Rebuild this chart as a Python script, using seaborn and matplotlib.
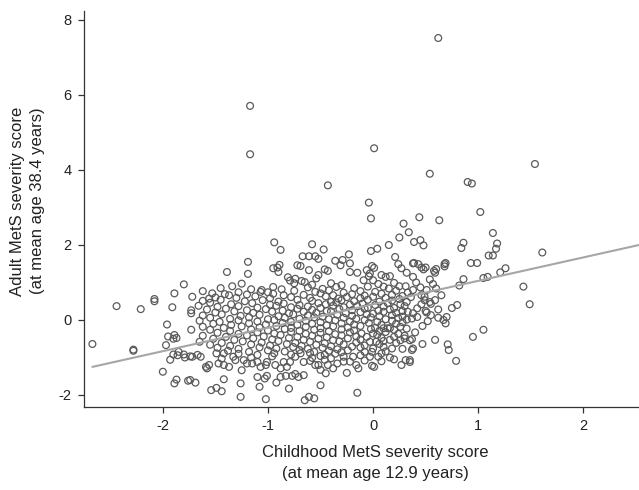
import matplotlib
matplotlib.use("Agg")
import matplotlib.pyplot as plt
import seaborn as sns
import pandas as pd

# ---------------- data ----------------
outliers = [(-1.17, 5.70), (-1.17, 4.41), (-0.43, 3.58), (0.62, 7.51), (0.01, 4.57),
            (0.54, 3.89), (1.54, 4.15), (0.90, 3.67), (0.94, 3.63)]

upper_cloud = [(-0.04, 3.12), (-0.02, 2.70), (0.29, 2.56), (0.34, 2.33), (0.25, 2.19), (0.15, 1.99),
               (-0.58, 2.01), (-0.47, 1.87), (-0.02, 1.83), (0.04, 1.89), (-0.23, 1.74), (0.21, 1.67),
               (-0.67, 1.69), (-0.61, 1.69), (-0.55, 1.69), (-0.52, 1.62), (-0.36, 1.57), (-0.29, 1.59),
               (-0.22, 1.50), (-0.01, 1.43), (0.01, 1.38), (0.24, 1.48), (0.27, 1.37), (0.38, 1.50),
               (-0.31, 1.45), (-0.46, 1.34), (-0.43, 1.30), (-0.52, 1.19), (-0.54, 1.10), (-0.22, 1.27),
               (-0.15, 1.25), (-0.06, 1.32), (-0.03, 1.23), (-0.04, 1.16), (0.08, 1.19), (0.12, 1.14),
               (0.16, 1.16), (0.32, 1.25), (-0.61, 1.32), (-0.09, 1.05), (0.00, 1.05), (0.25, 0.89),
               (0.31, 0.89), (0.10, 0.88)]

right_cloud = [(1.02, 2.87), (0.44, 2.73), (0.63, 2.65), (1.14, 2.31), (0.39, 2.07), (0.45, 2.12),
               (0.48, 1.98), (0.86, 2.05), (0.84, 1.91), (1.18, 2.03), (1.17, 1.89), (1.10, 1.71),
               (1.14, 1.71), (0.39, 1.51), (0.43, 1.48), (0.46, 1.39), (0.48, 1.34), (0.50, 1.39),
               (0.58, 1.30), (0.60, 1.35), (0.59, 1.25), (0.68, 1.48), (0.69, 1.51), (0.68, 1.42),
               (0.93, 1.51), (0.99, 1.51), (1.26, 1.37), (1.21, 1.26), (0.38, 1.14), (0.41, 0.99),
               (0.54, 1.07), (0.57, 0.95), (0.86, 1.08), (1.05, 1.11), (1.09, 1.14), (0.82, 0.91),
               (1.43, 0.88), (0.51, 0.79), (0.60, 0.83), (0.46, 0.65), (0.49, 0.61), (0.65, 0.65),
               (0.38, 0.79), (1.61, 1.79), (1.49, 0.41),
               (0.49, 0.52), (0.54, 0.47), (0.59, 0.52), (0.42, 0.30), (0.46, 0.41), (0.75, 0.31),
               (0.80, 0.39), (0.50, 0.23), (0.51, 0.19), (0.38, 0.17), (0.37, 0.03), (0.42, 0.07),
               (0.62, 0.05), (0.67, -0.01), (0.70, 0.07), (0.69, -0.10), (0.47, -0.17), (0.95, -0.46),
               (1.05, -0.27), (0.40, -0.34), (0.37, -0.52), (0.47, -0.65), (0.59, -0.54), (0.71, -0.66),
               (0.72, -0.81), (0.37, -0.81), (0.35, -1.08), (0.79, -1.10)]

left_cloud = [(-1.80, 0.94), (-1.89, 0.70), (-2.08, 0.55), (-2.44, 0.36), (-2.21, 0.28), (-2.08, 0.49),
              (-1.91, 0.33), (-1.73, 0.25), (-1.73, 0.17), (-1.96, -0.13), (-1.73, -0.27), (-1.95, -0.45),
              (-1.89, -0.41), (-1.87, -0.49), (-1.90, -0.51), (-1.97, -0.68), (-2.67, -0.65), (-2.28, -0.83),
              (-2.28, -0.80), (-1.90, -0.93), (-1.85, -0.86), (-1.86, -0.95), (-1.80, -0.93), (-1.79, -1.01),
              (-1.74, -0.98), (-1.93, -1.07), (-2.00, -1.39), (-1.87, -1.60), (-1.89, -1.70), (-1.76, -1.63),
              (-1.69, -1.68)]

upper_left_cloud = [(-0.94, 2.06), (-0.88, 1.86), (-1.19, 1.54), (-1.39, 1.27), (-1.19, 1.22),
                    (-0.95, 1.37), (-0.91, 1.39), (-0.89, 1.46), (-0.90, 1.27), (-0.72, 1.45),
                    (-0.69, 1.43), (-0.74, 1.09), (-0.75, 0.97), (-0.79, 1.04), (-0.68, 1.03),
                    (-0.81, 1.13), (-0.65, 1.00), (-1.34, 0.89), (-1.16, 0.81), (-1.06, 0.79),
                    (-1.07, 0.74), (-1.00, 0.73), (-0.95, 0.87), (-0.87, 0.81), (-0.85, 0.65),
                    (-1.53, 0.70), (-1.50, 0.59), (-1.41, 0.68), (-1.37, 0.65), (-1.56, 0.56)]

lower_cloud = [(0.18, -0.77), (0.26, -0.55), (0.30, -0.50), (0.35, -0.55), (0.38, -0.77), (0.27, -1.21),
               (0.31, -1.08), (0.35, -1.13), (0.16, -0.23), (0.14, -0.23), (0.10, -0.23), (-0.11, -0.37),
               (-0.06, -0.46), (-0.03, -0.59), (0.03, -0.59), (-0.08, -0.86), (-0.03, -0.99), (-0.01, -0.86),
               (0.05, -0.99), (-0.01, -1.23), (0.01, -1.26), (-0.16, -1.21), (-0.14, -1.30), (-0.25, -1.42),
               (-0.20, -0.72), (-0.19, -0.99), (-0.22, -1.12), (-0.50, -1.75), (-0.15, -1.95), (-0.65, -2.15),
               (-0.61, -2.06), (-0.56, -2.10), (-0.66, -1.48), (-0.50, -1.34), (-0.45, -1.43), (-0.55, -1.21),
               (-0.52, -1.21), (-0.43, -1.21), (-0.38, -1.30), (-0.34, -1.17),
               (-1.26, -2.06), (-1.02, -2.12), (-1.54, -1.88), (-1.49, -1.82), (-1.44, -1.91), (-1.74, -1.61),
               (-1.26, -1.70), (-1.42, -1.59), (-1.08, -1.79), (-1.10, -1.53), (-1.01, -1.50), (-1.03, -1.57),
               (-0.92, -1.68), (-0.88, -1.53), (-0.80, -1.84), (-0.83, -1.50), (-0.77, -1.50), (-0.74, -1.45),
               (-0.71, -1.53), (-1.59, -1.26), (-1.56, -1.21), (-1.58, -1.30), (-1.67, -0.94), (-1.64, -0.99),
               (-1.72, -0.99), (-1.47, -1.17), (-1.42, -1.21), (-1.37, -1.26), (-1.49, -0.90), (-1.44, -1.04),
               (-1.42, -0.90), (-1.33, -0.99), (-1.31, -1.08), (-1.23, -1.08), (-1.20, -1.17), (-1.15, -1.17),
               (-1.25, -1.35), (-1.10, -1.13), (-1.07, -1.26), (-1.02, -1.21), (-1.01, -1.13), (-0.93, -1.21),
               (-0.88, -1.30), (-0.85, -1.13), (-0.82, -1.26), (-0.79, -1.13), (-0.74, -0.99), (-0.69, -0.90),
               (-0.66, -1.13)]

core_upper = [(-1.25, 0.96), (-0.58, 0.93), (-0.40, 0.97), (-0.30, 0.92), (0.05, 0.95), (0.20, 0.98),
              (-1.45, 0.84), (-0.62, 0.86), (-0.48, 0.82), (-0.35, 0.87), (-0.18, 0.84), (-0.05, 0.88),
              (0.15, 0.83), (0.45, 0.86), (-1.62, 0.76), (-1.28, 0.73), (-0.75, 0.77), (-0.55, 0.74),
              (-0.42, 0.78), (-0.28, 0.72), (-0.12, 0.76), (0.02, 0.74), (0.22, 0.77), (0.33, 0.72),
              (-1.20, 0.67), (-0.95, 0.69), (-0.66, 0.66), (-0.50, 0.70), (-0.38, 0.65), (-0.20, 0.68),
              (-0.08, 0.64), (0.08, 0.69), (0.18, 0.66), (0.28, 0.63), (-1.72, 0.61), (-1.30, 0.58),
              (-1.12, 0.62), (-0.98, 0.57), (-0.78, 0.60), (-0.60, 0.58), (-0.45, 0.62), (-0.33, 0.56),
              (-0.25, 0.60), (-0.12, 0.57), (0.00, 0.61), (0.12, 0.58), (0.25, 0.55), (0.36, 0.60),
              (-1.62, 0.50), (-1.45, 0.53), (-1.22, 0.49), (-1.05, 0.52), (-0.90, 0.48), (-0.72, 0.53),
              (-0.58, 0.50), (-0.40, 0.47), (-0.30, 0.52), (-0.18, 0.49), (-0.05, 0.53), (0.06, 0.48),
              (0.18, 0.51), (0.32, 0.47)]

core_mid_upper = [(-1.55, 0.45), (-1.35, 0.41), (-1.15, 0.44), (-0.98, 0.40), (-0.85, 0.43), (-0.70, 0.39),
                  (-0.52, 0.44), (-0.45, 0.41), (-0.35, 0.46), (-0.22, 0.40), (-0.10, 0.43), (0.02, 0.39),
                  (0.14, 0.44), (0.26, 0.41), (0.55, 0.42), (-1.66, 0.37), (-1.48, 0.34), (-1.28, 0.36),
                  (-1.10, 0.32), (-0.92, 0.37), (-0.78, 0.33), (-0.62, 0.35), (-0.50, 0.31), (-0.38, 0.37),
                  (-0.28, 0.33), (-0.15, 0.36), (-0.05, 0.32), (0.10, 0.35), (0.20, 0.31), (0.30, 0.36),
                  (-1.58, 0.27), (-1.40, 0.29), (-1.20, 0.25), (-1.02, 0.28), (-0.86, 0.24), (-0.72, 0.29),
                  (-0.58, 0.26), (-0.44, 0.23), (-0.32, 0.28), (-0.20, 0.25), (-0.08, 0.29), (0.05, 0.24),
                  (0.16, 0.27), (0.28, 0.23), (0.62, 0.27), (-1.50, 0.19), (-1.32, 0.22), (-1.14, 0.18),
                  (-0.96, 0.21), (-0.80, 0.17), (-0.66, 0.21), (-0.54, 0.18), (-0.40, 0.22), (-0.26, 0.17),
                  (-0.12, 0.20), (0.00, 0.16), (0.10, 0.21), (0.22, 0.18), (0.33, 0.21), (-1.62, 0.11),
                  (-1.44, 0.14), (-1.26, 0.10), (-1.08, 0.13), (-0.90, 0.09), (-0.76, 0.14), (-0.62, 0.11),
                  (-0.48, 0.08), (-0.34, 0.13), (-0.20, 0.10), (-0.06, 0.14), (0.06, 0.09), (0.18, 0.12),
                  (0.28, 0.08), (0.55, 0.12)]

core_mid_lower = [(-1.55, 0.05), (-1.36, 0.02), (-1.18, 0.06), (-1.00, 0.01), (-0.84, 0.05), (-0.70, 0.02),
                  (-0.56, 0.06), (-0.42, 0.01), (-0.28, 0.05), (-0.16, 0.02), (-0.02, 0.06), (0.12, 0.01),
                  (0.24, 0.04), (0.32, 0.00), (-1.65, -0.03), (-1.46, -0.06), (-1.28, -0.02), (-1.10, -0.05),
                  (-0.94, -0.01), (-0.78, -0.06), (-0.64, -0.03), (-0.50, -0.07), (-0.36, -0.02), (-0.22, -0.05),
                  (-0.08, -0.01), (0.04, -0.06), (0.18, -0.03), (0.28, -0.07), (0.52, -0.04), (-1.52, -0.11),
                  (-1.35, -0.14), (-1.18, -0.10), (-1.02, -0.13), (-0.86, -0.09), (-0.72, -0.14), (-0.58, -0.11),
                  (-0.44, -0.15), (-0.30, -0.10), (-0.18, -0.13), (-0.04, -0.09), (0.08, -0.14), (0.22, -0.11),
                  (-1.62, -0.19), (-1.42, -0.22), (-1.25, -0.18), (-1.08, -0.21), (-0.92, -0.17), (-0.78, -0.22),
                  (-0.64, -0.19), (-0.50, -0.23), (-0.38, -0.18), (-0.24, -0.21), (-0.12, -0.17), (0.02, -0.22),
                  (0.26, -0.19), (0.32, -0.24), (-1.55, -0.27), (-1.36, -0.30), (-1.16, -0.26), (-1.00, -0.29),
                  (-0.84, -0.25), (-0.70, -0.30), (-0.56, -0.27), (-0.42, -0.31), (-0.30, -0.26), (-0.18, -0.29),
                  (-0.02, -0.25), (0.06, -0.30), (0.20, -0.27)]

core_lower = [(-1.48, -0.35), (-1.28, -0.38), (-1.10, -0.34), (-0.94, -0.37), (-0.78, -0.33), (-0.64, -0.38),
              (-0.50, -0.35), (-0.36, -0.39), (-0.22, -0.34), (0.00, -0.37), (0.12, -0.33), (0.24, -0.38),
              (-1.62, -0.43), (-1.40, -0.46), (-1.20, -0.42), (-1.04, -0.45), (-0.88, -0.41), (-0.72, -0.46),
              (-0.58, -0.43), (-0.44, -0.47), (-0.30, -0.42), (-0.16, -0.45), (0.04, -0.41), (0.20, -0.46),
              (0.30, -0.43), (-1.52, -0.51), (-1.32, -0.54), (-1.14, -0.50), (-0.96, -0.53), (-0.80, -0.49),
              (-0.66, -0.54), (-0.52, -0.51), (-0.38, -0.55), (-0.24, -0.50), (-0.12, -0.53), (0.08, -0.49),
              (0.16, -0.54), (-1.65, -0.59), (-1.44, -0.62), (-1.24, -0.58), (-1.06, -0.61), (-0.90, -0.57),
              (-0.74, -0.62), (-0.60, -0.59), (-0.46, -0.63), (-0.32, -0.58), (-0.16, -0.61), (0.10, -0.57),
              (0.22, -0.62), (-1.55, -0.67), (-1.36, -0.70), (-1.16, -0.66), (-0.98, -0.69), (-0.82, -0.65),
              (-0.68, -0.70), (-0.54, -0.67), (-0.40, -0.71), (-0.28, -0.66), (-0.08, -0.69), (0.06, -0.65)]

core_bottom = [(-1.48, -0.75), (-1.28, -0.78), (-1.08, -0.74), (-0.92, -0.77), (-0.76, -0.73), (-0.62, -0.78),
               (-0.48, -0.75), (-0.34, -0.79), (-0.12, -0.74), (0.00, -0.77), (0.10, -0.73), (0.28, -0.78),
               (-1.38, -0.83), (-1.18, -0.86), (-1.00, -0.82), (-0.84, -0.85), (-0.70, -0.81), (-0.56, -0.86),
               (-0.42, -0.83), (-0.30, -0.87), (-0.24, -0.82), (0.12, -0.85), (-1.28, -0.91), (-1.10, -0.94),
               (-0.94, -0.90), (-0.78, -0.93), (-0.60, -0.89), (-0.46, -0.94), (-0.36, -0.91), (-0.12, -0.95),
               (0.08, -0.90), (-1.16, -1.01), (-0.96, -0.98), (-0.58, -1.02), (-0.50, -0.97), (-0.40, -1.03),
               (-0.28, -0.99), (0.16, -1.01), (-0.60, -1.10), (-0.46, -1.07), (-0.28, -1.12), (-0.08, -1.09),
               (0.08, -1.11), (0.20, -1.06)]

# fitted regression line end points
fit_child = [-2.67, 2.53]
fit_adult = [-1.26, 1.99]

x_ticks = [-2, -1, 0, 1, 2]
y_ticks = [-2, 0, 2, 4, 6, 8]
x_label = "Childhood MetS severity score\n(at mean age 12.9 years)"
y_label = "Adult MetS severity score\n(at mean age 38.4 years)"

groups = [outliers, upper_cloud, right_cloud, left_cloud, upper_left_cloud, lower_cloud,
          core_upper, core_mid_upper, core_mid_lower, core_lower, core_bottom]
df = pd.DataFrame([p for g in groups for p in g], columns=["child", "adult"])
fit_df = pd.DataFrame({"child": fit_child, "adult": fit_adult})

# ---------------- drawing ----------------
sns.set_theme(style="ticks")
plt.rcParams["font.family"] = ["Liberation Sans", "DejaVu Sans"]
plt.rcParams["axes.unicode_minus"] = False

W, H = 639, 490
fig = plt.figure(figsize=(W / 100, H / 100), dpi=100)
ax = fig.add_axes([84 / W, 1 - 407 / H, 1 - 84 / W, (407 - 11) / H])

sns.scatterplot(data=df, x="child", y="adult", ax=ax, s=24, marker="o",
                linewidth=0.9, legend=False, zorder=2)
pts = ax.collections[-1]
pts.set_facecolor("none")
pts.set_edgecolor("#5a5a5a")

sns.lineplot(data=fit_df, x="child", y="adult", ax=ax, color="#a6a6a6",
             linewidth=1.5, zorder=3)

ax.set_xlim(-2.75, 2.53)
ax.set_ylim(-2.33, 8.23)
ax.set_xticks(x_ticks)
ax.set_yticks(y_ticks)
ax.set_xticklabels([str(t) for t in x_ticks])
ax.set_yticklabels([str(t) for t in y_ticks])
sns.despine(ax=ax)
for s in ["left", "bottom"]:
    ax.spines[s].set_color("#333333")
    ax.spines[s].set_linewidth(0.9)
ax.tick_params(axis="both", direction="out", length=4, width=0.9, color="#333333",
               labelsize=10.5, labelcolor="#222222", pad=5)

ax.set_xlabel(x_label, fontsize=12, color="#222222", linespacing=1.45)
ax.set_ylabel(y_label, fontsize=12, color="#222222", linespacing=1.4)
ax.xaxis.set_label_coords((375 - 84) / (W - 84), -0.097)
ax.yaxis.set_label_coords(-0.07, 0.52)

fig.savefig("out.png", dpi=100)
